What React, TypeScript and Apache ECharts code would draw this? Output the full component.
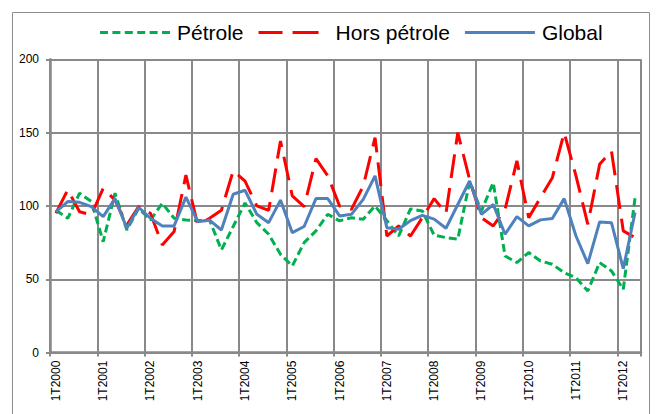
import React, { useEffect, useRef } from "react";
import * as echarts from "echarts";

const years = ["2000", "2001", "2002", "2003", "2004", "2005", "2006", "2007", "2008", "2009", "2010", "2011", "2012"];
const quarters = ["1T", "2T", "3T", "4T"];
const lastYearQuarters = 2;

const categories: string[] = [];
years.forEach((y, yi) => {
  const nq = yi === years.length - 1 ? lastYearQuarters : 4;
  for (let q = 0; q < nq; q++) categories.push(quarters[q] + y);
});

const petrole = [
  97, 91.6, 108.7, 103, 75.6, 108.7, 83.6, 98.4, 90.4, 101.8,
  91.6, 90.4, 90, 90.4, 70, 86, 102, 88.6, 80.7, 67,
  59.1, 75, 83, 94.3, 89.8, 92, 90.9, 100, 90, 79.5,
  98, 96.6, 80, 78.4, 77.3, 116.5, 96.6, 115.9, 65.9, 61.4,
  68.2, 62.5, 60.2, 54.5, 51.1, 42, 61.4, 55.7, 43.2, 105.7,
];

const horsPetrole = [
  95, 111, 96, 94, 112, 104, 87, 99.5, 95, 73.4,
  82.5, 121, 87, 91.6, 97, 124, 117, 100, 97, 144.3,
  106.8, 99.5, 132.3, 120.5, 100, 97.7, 113.6, 146.6, 79.5, 86.4,
  79.5, 92, 105, 95, 150, 118, 92, 86.4, 97.7, 130.7,
  92, 105.7, 119.3, 150, 120.5, 87.5, 128.4, 137.5, 83, 78.4,
];

const global = [
  96, 103, 102.5, 99.5, 92.7, 105, 84.8, 99, 91.6, 86.4,
  86.4, 106, 89.3, 90.4, 83.6, 108, 110.7, 94.3, 88.6, 104,
  81.8, 86, 105, 105, 93.2, 94.3, 104.5, 120.5, 85.2, 84.1,
  90, 93.6, 91, 84.8, 101, 117, 94.3, 101, 80.7, 92.7,
  86.4, 90.5, 91.4, 105, 79.5, 60.7, 89.1, 88.6, 57.3, 95.5,
];

const FONT = "Liberation Sans, Arial, sans-serif";
const GRID = "#898989";

// legend sample icons (70 x 3)
const ICON_GREEN =
  "path://M0,0h8v3h-8z M12.4,0h8v3h-8z M24.8,0h8v3h-8z M37.2,0h8v3h-8z M49.6,0h8v3h-8z M62,0h8v3h-8z";
const ICON_RED = "path://M0,0h24v3h-24z M34,0h26v3h-26z M70,0L70,3L70,0z";
const ICON_BLUE = "path://M0,0h70v3h-70z";

export default function App() {
  const ref = useRef<HTMLDivElement>(null);
  useEffect(() => {
    if (!ref.current) return;
    const chart = echarts.init(ref.current, undefined, { renderer: "svg" });
    chart.setOption({
      animation: false,
      backgroundColor: "#ffffff",
      graphic: [
        {
          type: "rect",
          shape: { x: 12.5, y: 12.5, width: 637, height: 430 },
          style: { fill: "none", stroke: "#8c8c8c", lineWidth: 1 },
          silent: true,
        },
      ],
      legend: {
        left: 95,
        top: 17,
        itemWidth: 70,
        itemHeight: 3,
        itemGap: 15,
        itemStyle: { borderWidth: 0 },
        textStyle: { fontSize: 21, fontFamily: FONT, color: "#000", padding: [0, 0, 0, 2] },
        data: [
          { name: "Pétrole", icon: ICON_GREEN },
          { name: "Hors pétrole", icon: ICON_RED },
          { name: "Global", icon: ICON_BLUE },
        ],
      },
      grid: { left: 50, right: 15, top: 59.3, bottom: 61.4 },
      xAxis: {
        type: "category",
        boundaryGap: true,
        data: categories,
        axisLine: { show: true, lineStyle: { color: GRID, width: 2.5 } },
        axisTick: { show: true, interval: 3, length: 4, lineStyle: { color: GRID, width: 2 } },
        axisLabel: {
          interval: 3,
          rotate: 90,
          fontSize: 12,
          fontFamily: FONT,
          color: "#000",
          margin: 8,
        },
        splitLine: { show: true, interval: 3, lineStyle: { color: GRID, width: 2 } },
      },
      yAxis: {
        type: "value",
        min: 0,
        max: 200,
        interval: 50,
        axisLine: { show: true, lineStyle: { color: GRID, width: 2.5 } },
        axisTick: { show: true, length: 4, lineStyle: { color: GRID, width: 2 } },
        axisLabel: { fontSize: 12, fontFamily: FONT, color: "#000", margin: 11 },
        splitLine: { show: true, lineStyle: { color: GRID, width: 2 } },
      },
      series: [
        {
          name: "Pétrole",
          type: "line",
          data: petrole,
          symbol: "none",
          color: "#00B050",
          lineStyle: { color: "#00B050", width: 3, type: [8, 4] },
        },
        {
          name: "Hors pétrole",
          type: "line",
          data: horsPetrole,
          symbol: "none",
          color: "#FF0000",
          lineStyle: { color: "#FF0000", width: 3, type: [24, 10] },
        },
        {
          name: "Global",
          type: "line",
          data: global,
          symbol: "none",
          color: "#4F81BD",
          lineStyle: { color: "#4F81BD", width: 3 },
        },
      ],
    });
    return () => chart.dispose();
  }, []);
  return (
    <div
      ref={ref}
      style={{ position: "fixed", left: 0, top: 0, width: 656, height: 414 }}
    />
  );
}
